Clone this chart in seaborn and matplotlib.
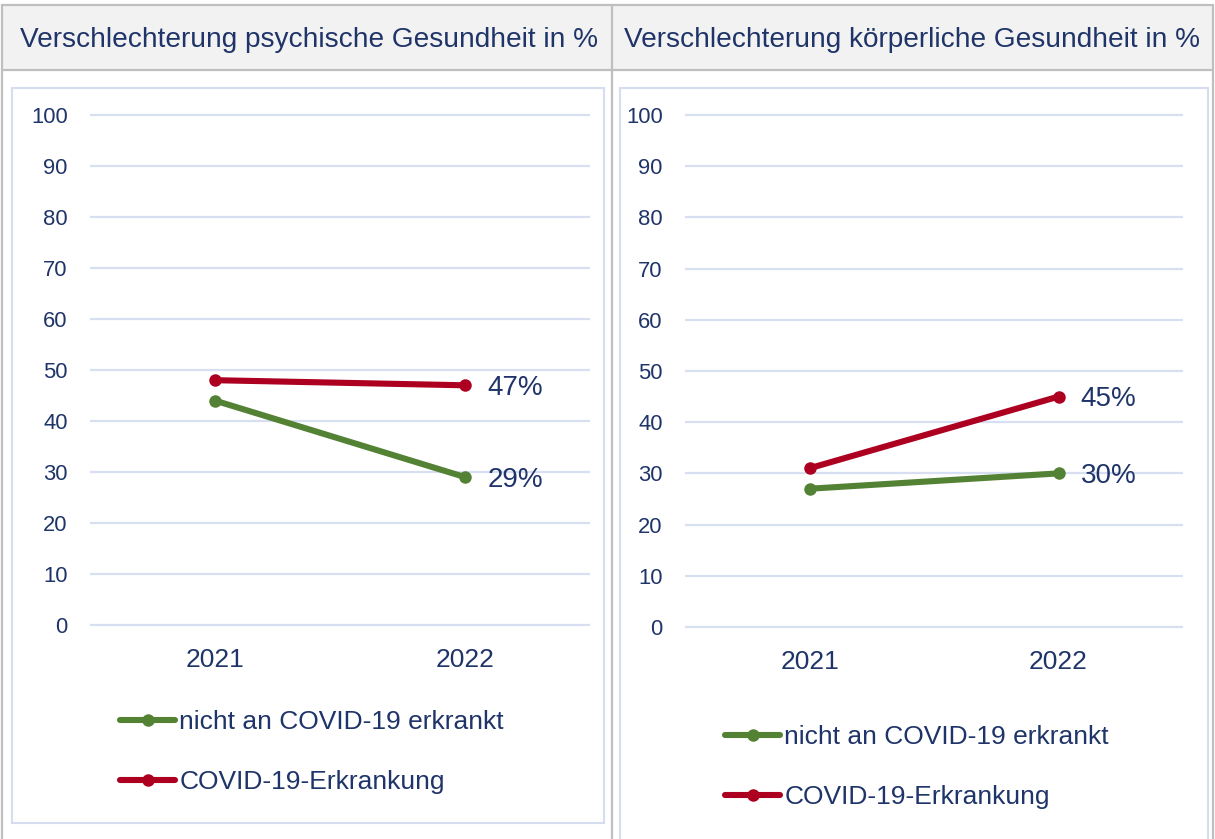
import pandas as pd
import seaborn as sns
import matplotlib.pyplot as plt
from matplotlib.patches import Rectangle
from matplotlib.lines import Line2D

# data
years = ['2021', '2022']
groups = ['nicht an COVID-19 erkrankt', 'COVID-19-Erkrankung']
psych_nicht = [44, 29]
psych_covid = [48, 47]
koerp_nicht = [27, 30]
koerp_covid = [31, 45]
titles = ['Verschlechterung psychische Gesundheit in %',
          'Verschlechterung körperliche Gesundheit in %']

W, H = 1215, 839
navy = '#1f3468'
green = '#548235'
red = '#ad0020'
grid_col = '#d9dff2'

sns.set_theme(style='white')
plt.rcParams['font.family'] = ['Liberation Sans', 'DejaVu Sans']


def make_df(nicht, covid):
    return pd.DataFrame({'Jahr': years * 2,
                         'Wert': nicht + covid,
                         'Gruppe': [groups[0]] * 2 + [groups[1]] * 2})


def px_rect(x0, y0, x1, y1):
    # pixel box (top-left origin) -> figure fraction [left, bottom, w, h]
    return [x0 / W, 1 - y1 / H, (x1 - x0) / W, (y1 - y0) / H]


fig = plt.figure(figsize=(W / 100, H / 100), dpi=100, facecolor='white')

# table look: header cells + borders
for (x0, x1) in [(2, 612), (612, 1213)]:
    fig.add_artist(Rectangle((x0 / W, 1 - 70 / H), (x1 - x0) / W, 65 / H,
                             transform=fig.transFigure, facecolor='#f2f2f2',
                             edgecolor='none', zorder=0))
tbl = '#bfbfbf'
for y in [5, 70]:
    fig.add_artist(Line2D([2 / W, 1213 / W], [1 - y / H, 1 - y / H],
                          transform=fig.transFigure, color=tbl, lw=1.6))
for x in [2, 612, 1213]:
    fig.add_artist(Line2D([x / W, x / W], [1 - 5 / H, 0],
                          transform=fig.transFigure, color=tbl, lw=1.6))
fig.text(20 / W, 1 - 40 / H, titles[0], fontsize=20.2, color=navy, va='center')
fig.text(624 / W, 1 - 40 / H, titles[1], fontsize=20.2, color=navy, va='center')

# chart frames
panel_col = '#d6ddf1'
fig.add_artist(Rectangle((12 / W, 1 - 823 / H), 592 / W, 735 / H,
                         transform=fig.transFigure, facecolor='none',
                         edgecolor=panel_col, lw=1.5))
fig.add_artist(Rectangle((620 / W, -0.01), 588 / W, 1 - 88 / H + 0.01,
                         transform=fig.transFigure, facecolor='none',
                         edgecolor=panel_col, lw=1.5))

panels = [
    (make_df(psych_nicht, psych_covid), px_rect(90, 113, 590, 627), (120, 710)),
    (make_df(koerp_nicht, koerp_covid), px_rect(685, 113, 1183, 629), (725, 725)),
]

for df, pos, (lx, ly) in panels:
    ax = fig.add_axes(pos)
    ax.set_facecolor('none')
    sns.lineplot(data=df, x='Jahr', y='Wert', hue='Gruppe', hue_order=groups,
                 palette=[green, red], marker='o', markersize=9,
                 markeredgewidth=0, linewidth=4.4, ax=ax, legend=False)
    ax.set_xlim(-0.5, 1.5)
    ax.set_ylim(-0.4, 100.4)
    ax.set_yticks(range(0, 101, 10))
    ax.yaxis.grid(True, color=grid_col, lw=1.6)
    ax.xaxis.grid(False)
    ax.set_axisbelow(True)
    for s in ax.spines.values():
        s.set_visible(False)
    ax.tick_params(axis='y', length=0, pad=16, labelsize=15.8, labelcolor=navy)
    ax.tick_params(axis='x', length=0, pad=15, labelsize=19, labelcolor=navy)
    ax.set_xlabel('')
    ax.set_ylabel('')

    # value labels at 2022
    for g in groups:
        v = df[(df['Gruppe'] == g) & (df['Jahr'] == years[1])]['Wert'].iloc[0]
        ax.annotate(f'{v}%', (1, v), xytext=(16, -2), textcoords='offset points',
                    fontsize=20, color=navy, va='center', ha='left')

    handles = [Line2D([], [], color=c, lw=4.4, marker='o', markersize=9,
                      markeredgewidth=0) for c in [green, red]]
    leg = ax.legend(handles, groups, loc='upper left',
                    bbox_to_anchor=(lx / W, 1 - ly / H),
                    bbox_transform=fig.transFigure, frameon=False,
                    fontsize=19, handlelength=2.1, handletextpad=0.15,
                    labelspacing=1.38, borderpad=0, borderaxespad=0)
    for t in leg.get_texts():
        t.set_color(navy)

fig.savefig('out.png', dpi=100)
